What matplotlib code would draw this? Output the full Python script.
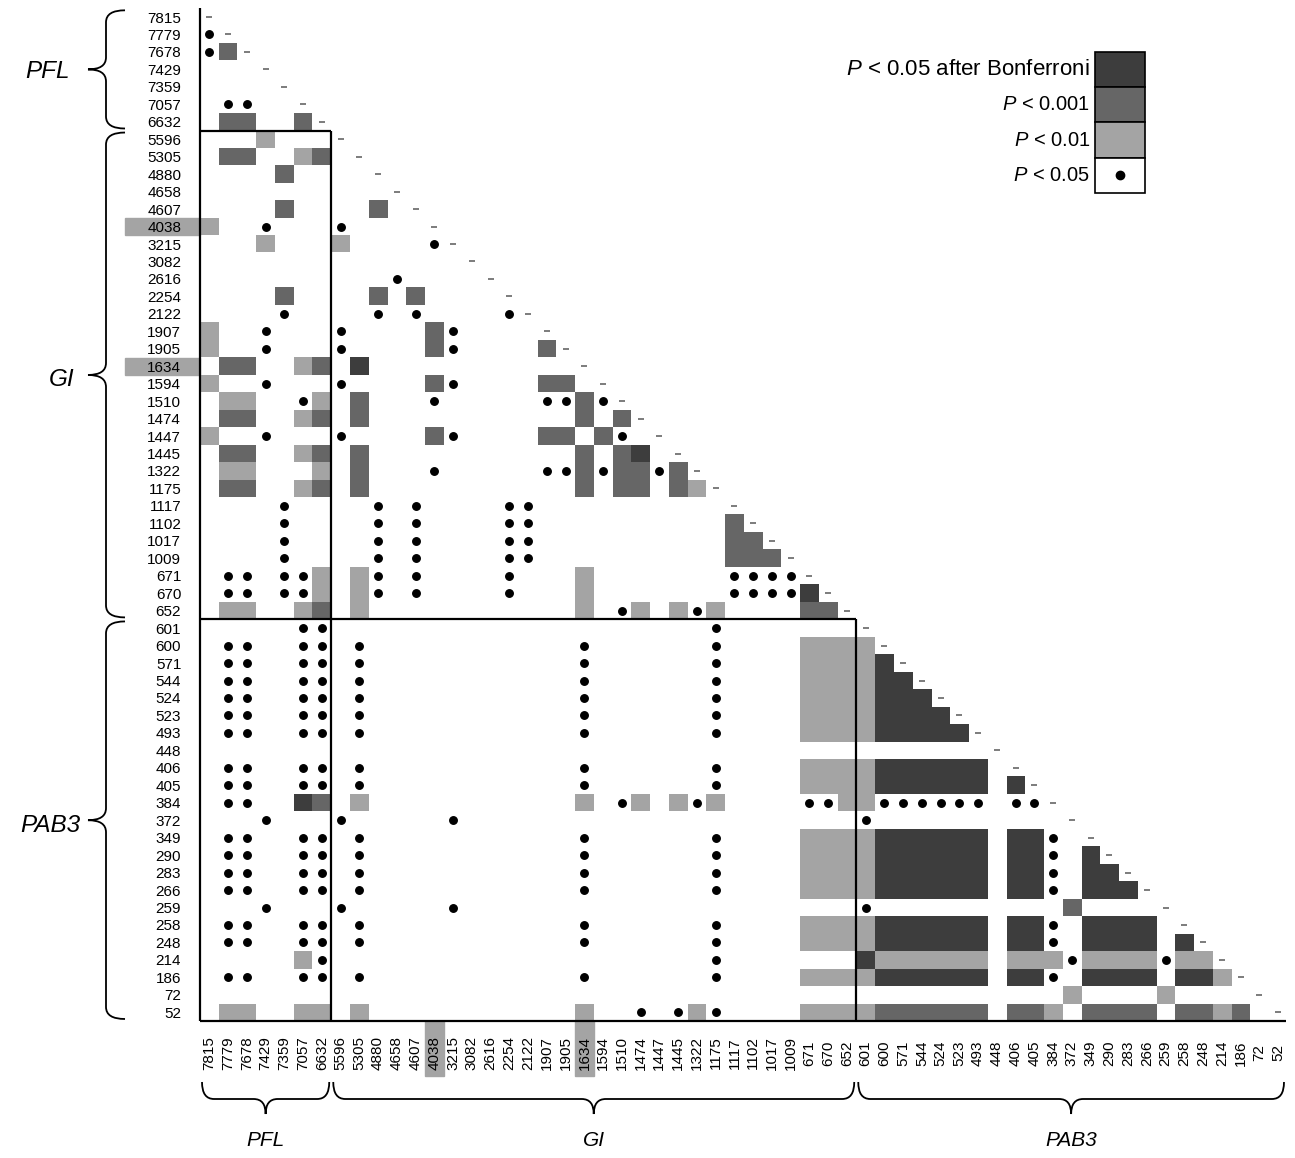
import matplotlib
matplotlib.use('Agg')
import matplotlib.pyplot as plt
import numpy as np
from matplotlib.colors import ListedColormap
from matplotlib.patches import Rectangle, PathPatch
from matplotlib.path import Path

plt.rcParams['font.family'] = ['Liberation Sans', 'DejaVu Sans']
plt.rcParams['mathtext.fontset'] = 'custom'
plt.rcParams['mathtext.rm'] = 'Liberation Sans'
plt.rcParams['mathtext.it'] = 'Liberation Sans:italic'

# ---- data -------------------------------------------------------------
loci = ['7815', '7779', '7678', '7429', '7359', '7057', '6632',
        '5596', '5305', '4880', '4658', '4607', '4038', '3215', '3082',
        '2616', '2254', '2122', '1907', '1905', '1634', '1594', '1510',
        '1474', '1447', '1445', '1322', '1175', '1117', '1102', '1017',
        '1009', '671', '670', '652',
        '601', '600', '571', '544', '524', '523', '493', '448', '406',
        '405', '384', '372', '349', '290', '283', '266', '259', '258',
        '248', '214', '186', '72', '52']
groups = ['PFL', 'GI', 'PAB3']
group_sizes = [7, 28, 23]
highlighted = ['4038', '1634']


def r(a, b):
    return list(range(a, b + 1))


# row index -> column indices, one dict per significance level
bonferroni = {
    20: [8], 25: [23], 33: [32], 37: [36], 38: r(36, 37), 39: r(36, 38),
    40: r(36, 39), 41: r(36, 40), 43: r(36, 41), 44: r(36, 41) + [43],
    45: [5], 47: r(36, 41) + r(43, 44), 48: r(36, 41) + r(43, 44) + [47],
    49: r(36, 41) + r(43, 44) + r(47, 48), 50: r(36, 41) + r(43, 44) + r(47, 49),
    52: r(36, 41) + r(43, 44) + r(47, 50),
    53: r(36, 41) + r(43, 44) + r(47, 50) + [52],
    54: [35], 55: r(36, 41) + r(43, 44) + r(47, 50) + r(52, 53),
}
p001 = {
    2: [1], 6: [1, 2, 5], 8: [1, 2, 6], 9: [4], 11: [4, 9], 16: [4, 9, 11],
    18: [12], 19: [12, 18], 20: [1, 2, 6], 21: [12, 18, 19], 22: [8, 20],
    23: [1, 2, 6, 8, 20, 22], 24: [12, 18, 19, 21], 25: [1, 2, 6, 8, 20, 22],
    26: [8, 20, 22, 23, 25], 27: [1, 2, 6, 8, 20, 22, 23, 25],
    29: [28], 30: [28, 29], 31: [28, 29, 30], 34: [6, 32, 33], 45: [6],
    51: [46], 57: r(36, 41) + r(43, 44) + r(47, 50) + r(52, 53) + [55],
}
p01 = {
    7: [3], 8: [5], 12: [0], 13: [3, 7], 18: [0], 19: [0], 20: [5], 21: [0],
    22: [1, 2, 6], 23: [5], 24: [0], 25: [5], 26: [1, 2, 6], 27: [5, 26],
    32: [6, 8, 20], 33: [6, 8, 20], 34: [1, 2, 5, 8, 20, 23, 25, 27],
    36: r(32, 35), 37: r(32, 35), 38: r(32, 35), 39: r(32, 35),
    40: r(32, 35), 41: r(32, 35), 43: r(32, 35), 44: r(32, 35),
    45: [8, 20, 23, 25, 27, 34, 35],
    47: r(32, 35), 48: r(32, 35), 49: r(32, 35), 50: r(32, 35),
    52: r(32, 35), 53: r(32, 35),
    54: [5] + r(36, 41) + r(43, 45) + r(47, 50) + r(52, 53),
    55: r(32, 35) + [54], 56: [46, 51],
    57: [1, 2, 5, 6, 8, 20, 26] + r(32, 35) + [45, 54],
}
common = [1, 2, 5, 6, 8, 20, 27]
p05 = {
    1: [0], 2: [0], 5: [1, 2], 12: [3, 7], 13: [12], 15: [10],
    17: [4, 9, 11, 16], 18: [3, 7, 13], 19: [3, 7, 13], 21: [3, 7, 13],
    22: [5, 12, 18, 19, 21], 24: [3, 7, 13, 22], 26: [12, 18, 19, 21, 24],
    28: [4, 9, 11, 16, 17], 29: [4, 9, 11, 16, 17], 30: [4, 9, 11, 16, 17],
    31: [4, 9, 11, 16, 17],
    32: [1, 2, 4, 5, 9, 11, 16, 28, 29, 30, 31],
    33: [1, 2, 4, 5, 9, 11, 16, 28, 29, 30, 31],
    34: [22, 26], 35: [5, 6, 27],
    36: common, 37: common, 38: common, 39: common, 40: common, 41: common,
    43: common, 44: common,
    45: [1, 2, 22, 26, 32, 33] + r(36, 41) + [43, 44],
    46: [3, 7, 13, 35],
    47: common + [45], 48: common + [45], 49: common + [45], 50: common + [45],
    51: [3, 7, 13, 35], 52: common + [45], 53: common + [45],
    54: [6, 27, 46, 51], 55: common + [45], 57: [23, 25, 27],
}

legend_labels = [r'$\mathit{P}$ < 0.05 after Bonferroni', r'$\mathit{P}$ < 0.001',
                 r'$\mathit{P}$ < 0.01', r'$\mathit{P}$ < 0.05']

light, mid, dark = '#a4a4a4', '#666666', '#3d3d3d'

# ---- figure -----------------------------------------------------------
W, H = 1295, 1158
fig = plt.figure(figsize=(W / 100, H / 100), dpi=100)
x0, x1, y0, y1 = 200, 1287.5, 8.3, 1021
ax = fig.add_axes([x0 / W, 1 - y1 / H, (x1 - x0) / W, (y1 - y0) / H])
n = len(loci)

level = np.zeros((n, n))
for val, d in [(1, p01), (2, p001), (3, bonferroni)]:
    for row, cols in d.items():
        for c in cols:
            level[row, c] = val

ax.imshow(np.ma.masked_equal(level, 0), cmap=ListedColormap([light, mid, dark]),
          vmin=0.5, vmax=3.5, extent=(-0.5, n - 0.5, n - 0.5, -0.5),
          aspect='auto', interpolation='nearest')

dx = [c for row, cols in p05.items() for c in cols]
dy = [row for row, cols in p05.items() for c in cols]
ax.plot(dx, dy, ls='none', marker='o', ms=5.4, color='black')
ax.plot(range(n), range(n), ls='none', marker='_', ms=4, mew=1.2, color='#666666')

ax.set_xlim(-0.5, n - 0.5)
ax.set_ylim(n - 0.5, -0.5)
for s in ax.spines.values():
    s.set_visible(False)
ax.set_xticks(range(n))
ax.set_xticklabels(loci, rotation=90, fontsize=11)
ax.set_yticks(range(n))
ax.set_yticklabels(loci, fontsize=11)
ax.tick_params(axis='both', length=0)
ax.tick_params(axis='y', pad=13.5)
ax.tick_params(axis='x', pad=23)
for lab in ax.get_xticklabels():
    lab.set_va('center')

# highlighted loci
for name in highlighted:
    i = loci.index(name)
    ax.add_patch(Rectangle((-4.5, i - 0.5), 4, 1, color=light, clip_on=False, zorder=0))
    ax.add_patch(Rectangle((i - 0.5, n - 0.5), 1, 3.15, color=light, clip_on=False, zorder=0))

# block outlines
b1 = group_sizes[0] - 0.5
b2 = group_sizes[0] + group_sizes[1] - 0.5
lines = [([-0.5, -0.5], [-0.5, n - 0.5]), ([-0.5, n - 0.6], [n - 0.5, n - 0.5]),
         ([-0.5, b1], [b1, b1]), ([b1, b1], [b1, n - 0.5]),
         ([-0.5, b2], [b2, b2]), ([b2, b2], [b2, n - 0.5])]
for xs, ys in lines:
    ax.plot(xs, ys, color='black', lw=1.6, clip_on=False, solid_capstyle='butt')

# ---- overlay in pixel coordinates: braces, group names, legend ---------
ov = fig.add_axes([0, 0, 1, 1])
ov.set_xlim(0, W)
ov.set_ylim(H, 0)
ov.axis('off')


def brace(a, b, e, s, t, vertical=True, rad=12):
    m = (a + b) / 2
    pts = [(e, a), (s, a), (s, a + rad), (s, m - rad), (s, m), (t, m),
           (s, m), (s, m + rad), (s, b - rad), (s, b), (e, b)]
    codes = [Path.MOVETO, Path.CURVE3, Path.CURVE3, Path.LINETO, Path.CURVE3,
             Path.CURVE3, Path.CURVE3, Path.CURVE3, Path.LINETO, Path.CURVE3,
             Path.CURVE3]
    if not vertical:
        pts = [(p[1], p[0]) for p in pts]
    ov.add_patch(PathPatch(Path(pts, codes), fill=False, lw=1.3, color='black'))


row_px = (y1 - y0) / n
col_px = (x1 - x0) / n
start = 0
left_pos = [(47, 72), (62, 380), (50, 825)]
for g, size, lp in zip(groups, group_sizes, left_pos):
    ya = y0 + start * row_px + 2
    yb = y0 + (start + size) * row_px - 2
    brace(ya, yb, 125, 106, 88)
    xa = x0 + start * col_px + 2
    xb = x0 + (start + size) * col_px - 2
    if start + size == n:
        xb = 1284
    brace(xa, xb, 1082, 1099, 1114, vertical=False)
    ov.text(lp[0], lp[1], g, ha='center', va='center', fontsize=17.5, style='italic')
    ov.text((xa + xb) / 2, 1140, g, ha='center', va='center', fontsize=15, style='italic')
    start += size

# legend
lx, ly, lw_, lh = 1095, 52, 50, 35.2
for k, (lab, col) in enumerate(zip(legend_labels, [dark, mid, light, 'white'])):
    ov.add_patch(Rectangle((lx, ly + k * lh), lw_, lh, facecolor=col,
                           edgecolor='black', lw=1.2))
    ov.text(lx - 5, ly + (k + 0.5) * lh, lab, ha='right', va='center',
            fontsize=16 if k == 0 else 14.5)
ov.plot(lx + lw_ / 2, ly + 3.5 * lh, marker='o', ms=6, color='black')

fig.savefig('out.png', dpi=100)
